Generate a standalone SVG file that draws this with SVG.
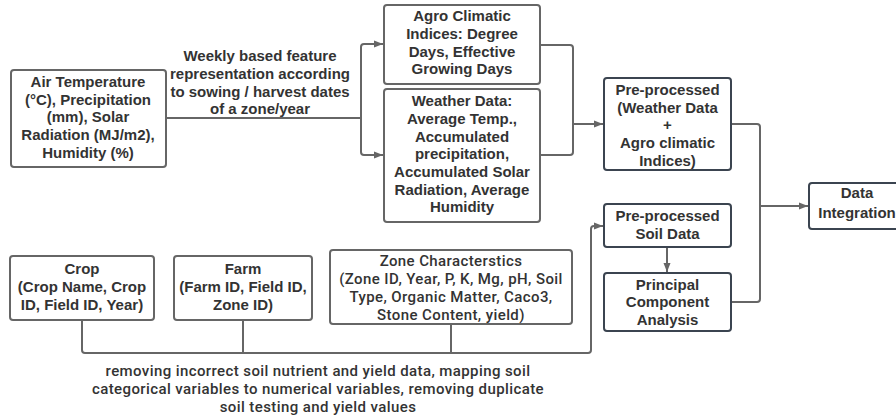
<svg xmlns="http://www.w3.org/2000/svg" width="896" height="419" viewBox="0 0 896 419">
<style>
  .box{fill:#fff;stroke:#666;stroke-width:2}
  .dbox{fill:#fff;stroke:#3b4450;stroke-width:2}
  .t{font-family:"Liberation Sans",Arial,sans-serif;font-weight:bold;font-size:15px;fill:#333;text-anchor:middle}
  .r{font-family:Roboto,"Liberation Sans",sans-serif;font-weight:500;font-size:15px;letter-spacing:0.4px;fill:#333;text-anchor:middle}
  .c{fill:none;stroke:#666;stroke-width:2;stroke-linejoin:round}
</style>
<defs>
  <marker id="ah" markerUnits="userSpaceOnUse" markerWidth="9" markerHeight="8" refX="9" refY="4" orient="auto">
    <path d="M0,0.5 L9,4 L0,7.5 z" fill="#666"/>
  </marker>
</defs>
<rect width="896" height="419" fill="#fff"/>
<g id="connectors">
  <path class="c" d="M166 118 H361"/>
  <path class="c" d="M383 44 H364 Q361 44 361 47 V152 Q361 155 364 155 H383" marker-end="url(#ah)"/>
  <path class="c" d="M364 44 H383" marker-end="url(#ah)"/>
  <path class="c" d="M540 45 H570 Q573 45 573 48 V152 Q573 155 570 155 H540"/>
  <path class="c" d="M573 124 H603" marker-end="url(#ah)"/>
  <path class="c" d="M731 124 H757 Q760 124 760 127 V299 Q760 302 757 302 H731"/>
  <path class="c" d="M760 206 H808" marker-end="url(#ah)"/>
  <path class="c" d="M667 247 V272" marker-end="url(#ah)"/>
  <path class="c" d="M82 320 V350 Q82 353 85 353 H588 Q591 353 591 350 V229 Q591 226 594 226 H603" marker-end="url(#ah)"/>
  <path class="c" d="M243 320 V353"/>
  <path class="c" d="M451 324 V353"/>
</g>
<g id="label-weekly">
  <text class="t" x="260" y="61">Weekly based feature</text>
  <text class="t" x="260" y="79">representation according</text>
  <text class="t" x="260" y="97">to sowing / harvest dates</text>
  <text class="t" x="260" y="114">of a zone/year</text>
</g>
<g id="label-removing">
  <text class="r" x="318" y="376">removing incorrect soil nutrient and yield data, mapping soil</text>
  <text class="r" x="318" y="394">categorical variables to numerical variables, removing duplicate</text>
  <text class="r" x="318" y="412">soil testing and yield values</text>
</g>
<g id="air">
  <rect class="box" x="11" y="70" width="155" height="97" rx="3"/>
  <text class="t" x="88" y="87">Air Temperature</text>
  <text class="t" x="88" y="105">(°C), Precipitation</text>
  <text class="t" x="88" y="122">(mm), Solar</text>
  <text class="t" x="88" y="140">Radiation (MJ/m2),</text>
  <text class="t" x="88" y="158">Humidity (%)</text>
</g>
<g id="agro">
  <rect class="box" x="384" y="5" width="156" height="79" rx="3"/>
  <text class="t" x="462" y="21">Agro Climatic</text>
  <text class="t" x="462" y="39">Indices: Degree</text>
  <text class="t" x="462" y="57">Days, Effective</text>
  <text class="t" x="462" y="74">Growing Days</text>
</g>
<g id="weather">
  <rect class="box" x="384" y="89" width="156" height="133" rx="3"/>
  <text class="t" x="462" y="106">Weather Data:</text>
  <text class="t" x="462" y="124">Average Temp.,</text>
  <text class="t" x="462" y="142">Accumulated</text>
  <text class="t" x="462" y="159">precipitation,</text>
  <text class="t" x="462" y="177">Accumulated Solar</text>
  <text class="t" x="462" y="195">Radiation, Average</text>
  <text class="t" x="462" y="212">Humidity</text>
</g>
<g id="preprocessed">
  <rect class="dbox" x="604" y="78" width="127" height="92" rx="3"/>
  <text class="t" x="667.5" y="95">Pre-processed</text>
  <text class="t" x="667.5" y="113">(Weather Data</text>
  <text class="t" x="667.5" y="130">+</text>
  <text class="t" x="667.5" y="148">Agro climatic</text>
  <text class="t" x="667.5" y="166">Indices)</text>
</g>
<g id="soil">
  <rect class="dbox" x="604" y="204" width="127" height="43" rx="3"/>
  <text class="t" x="667.5" y="221">Pre-processed</text>
  <text class="t" x="667.5" y="239">Soil Data</text>
</g>
<g id="pca">
  <rect class="dbox" x="604" y="273" width="127" height="58" rx="3"/>
  <text class="t" x="667.5" y="290">Principal</text>
  <text class="t" x="667.5" y="307">Component</text>
  <text class="t" x="667.5" y="325">Analysis</text>
</g>
<g id="integration">
  <rect class="dbox" x="809" y="183" width="96" height="46" rx="3"/>
  <text class="t" x="857" y="198">Data</text>
  <text class="t" x="857" y="218">Integration</text>
</g>
<g id="crop">
  <rect class="box" x="10" y="256" width="144" height="64" rx="3"/>
  <text class="t" x="82" y="274">Crop</text>
  <text class="t" x="82" y="292">(Crop Name, Crop</text>
  <text class="t" x="82" y="310">ID, Field ID, Year)</text>
</g>
<g id="farm">
  <rect class="box" x="174" y="256" width="138" height="64" rx="3"/>
  <text class="t" x="243" y="274">Farm</text>
  <text class="t" x="243" y="292">(Farm ID, Field ID,</text>
  <text class="t" x="243" y="310">Zone ID)</text>
</g>
<g id="zone">
  <rect class="box" x="330" y="250" width="242" height="74" rx="3"/>
  <text class="r" x="451" y="266">Zone Characterstics</text>
  <text class="r" x="451" y="284">(Zone ID, Year, P, K, Mg, pH, Soil</text>
  <text class="r" x="451" y="302">Type, Organic Matter, Caco3,</text>
  <text class="r" x="451" y="319.5">Stone Content, yield)</text>
</g>
</svg>
